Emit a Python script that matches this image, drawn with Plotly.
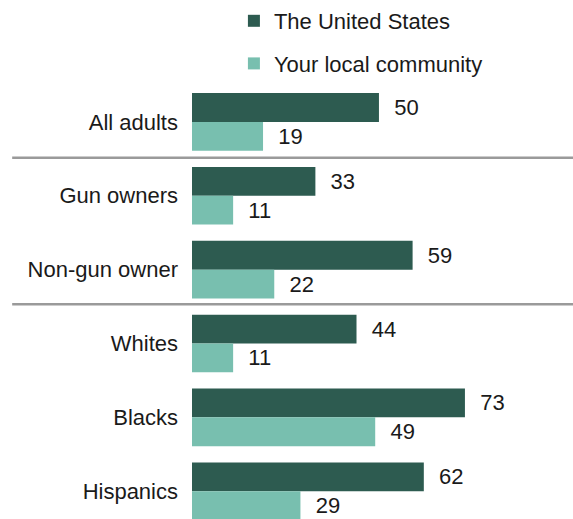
import plotly.graph_objects as go

# data
groups = ["All adults", "Gun owners", "Non-gun owner", "Whites", "Blacks", "Hispanics"]
us_values = [50, 33, 59, 44, 73, 62]
local_values = [19, 11, 22, 11, 49, 29]
series_names = ["The United States", "Your local community"]

DARK = "#2d5b50"
LIGHT = "#78bfaf"
FONT = "Liberation Sans, Arial, sans-serif"
PAD = "\u00a0\u00a0"

positions = list(range(len(groups)))

fig = go.Figure()

fig.add_trace(go.Bar(
    y=positions, x=us_values, orientation="h",
    name=series_names[0], legendgroup="a",
    marker=dict(color=DARK, line=dict(width=0)),
    text=[PAD + str(v) for v in us_values],
    textposition="outside", cliponaxis=False,
    textfont=dict(size=22, color="#1a1a1a", family=FONT),
))
fig.add_trace(go.Bar(
    y=positions, x=local_values, orientation="h",
    name=series_names[1], legendgroup="b",
    marker=dict(color=LIGHT, line=dict(width=0)),
    text=[PAD + str(v) for v in local_values],
    textposition="outside", cliponaxis=False,
    textfont=dict(size=22, color="#1a1a1a", family=FONT),
))

# separator rules between the groups
for yv in (0.485, 2.47):
    fig.add_shape(type="line", xref="paper", yref="y",
                  x0=-0.472, x1=1, y0=yv, y1=yv,
                  line=dict(color="#9a9a9a", width=2.5))

fig.update_layout(
    width=573, height=519,
    barmode="group", bargap=0.22, bargroupgap=0,
    plot_bgcolor="white", paper_bgcolor="white",
    margin=dict(l=192, r=0, t=82, b=0),
    font=dict(family=FONT, size=22, color="#1a1a1a"),
    showlegend=True,
    legend=dict(
        x=0.11, xanchor="left", y=1, yanchor="top", yref="container",
        font=dict(size=22, color="#1a1a1a", family=FONT),
        tracegroupgap=11, itemwidth=30,
        bgcolor="rgba(0,0,0,0)",
    ),
    xaxis=dict(range=[0, 101.9], visible=False, fixedrange=True),
    yaxis=dict(
        range=[5.376, -0.5], tickvals=positions, ticktext=groups,
        showgrid=False, zeroline=False, showline=False, ticks="",
        ticklabelstandoff=13, fixedrange=True,
        tickfont=dict(size=22, color="#1a1a1a", family=FONT),
    ),
)

fig.write_html("out.html", config={"displayModeBar": False},
               post_script="document.body.style.margin='0';")
